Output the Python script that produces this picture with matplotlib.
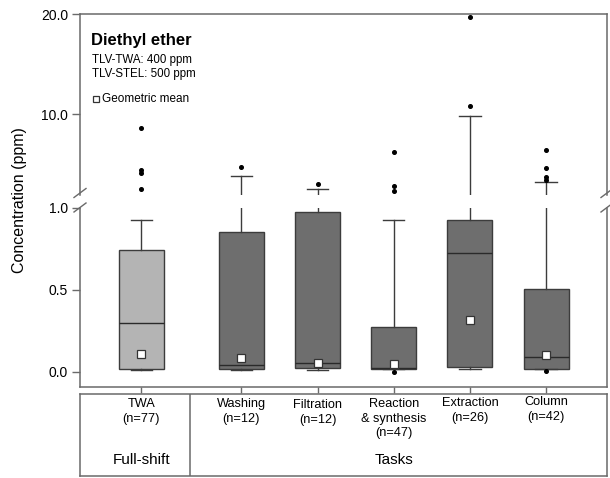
import matplotlib
matplotlib.use("Agg")
import matplotlib.pyplot as plt
from matplotlib.lines import Line2D

plt.rcParams['font.family'] = ['Liberation Sans', 'DejaVu Sans']

# Daten (ppm)
labels = ["TWA\n(n=77)", "Washing\n(n=12)", "Filtration\n(n=12)",
          "Reaction\n& synthesis\n(n=47)", "Extraction\n(n=26)", "Column\n(n=42)"]
q1 = [0.015, 0.018, 0.024, 0.015, 0.030, 0.015]
med = [0.294, 0.039, 0.053, 0.024, 0.722, 0.091]
q3 = [0.742, 0.850, 0.974, 0.274, 0.921, 0.503]
whislo = [0.010, 0.010, 0.010, 0.015, 0.015, 0.015]
whishi = [0.921, 3.83, 2.50, 0.921, 9.80, 3.26]
geo_mean = [0.110, 0.083, 0.055, 0.045, 0.313, 0.100]
outliers = [
    [8.66, 4.43, 4.10, 2.53],
    [4.70],
    [3.03],
    [6.20, 2.86, 2.36, 0.0],
    [10.8, 19.7],
    [6.40, 4.63, 3.73, 3.43, 0.006],
]

W, H = 610, 478
fig = plt.figure(figsize=(W / 100, H / 100), dpi=100)


def fax(l, t, r, b):
    return fig.add_axes([l / W, 1 - b / H, (r - l) / W, (b - t) / H])


def fp(x, y):
    return x / W, 1 - y / H


# Layout
pos = [0, 1.31, 2.31, 3.31, 4.31, 5.31]
xlim = (-0.807, 6.109)
box_cols = ["#b4b4b4"] + ["#6e6e6e"] * 5
edge = "#3c3c3c"
spine_c = "#6a6a6a"

stats = []
for i in range(6):
    stats.append(dict(med=med[i], q1=q1[i], q3=q3[i], whislo=whislo[i],
                      whishi=whishi[i], fliers=outliers[i], mean=geo_mean[i]))

ax_hi = fax(80, 14.3, 607, 195)
ax_lo = fax(80, 207.5, 607, 386.7)
ax_tb = fax(80, 393.5, 607, 476)

for ax in (ax_hi, ax_lo):
    bp = ax.bxp(stats, positions=pos, widths=0.59, capwidths=0.28,
                patch_artist=True, showmeans=True,
                boxprops=dict(edgecolor=edge, linewidth=1.0),
                medianprops=dict(color="#2a2a2a", linewidth=1.0),
                whiskerprops=dict(color=edge, linewidth=1.0),
                capprops=dict(color=edge, linewidth=1.0),
                flierprops=dict(marker="o", markerfacecolor="black",
                                markeredgecolor="black", markersize=2.6),
                meanprops=dict(marker="s", markerfacecolor="white",
                               markeredgecolor="#333333", markersize=5.5,
                               markeredgewidth=0.9))
    for patch, c in zip(bp["boxes"], box_cols):
        patch.set_facecolor(c)
    ax.set_xlim(*xlim)
    for s in ax.spines.values():
        s.set_color(spine_c)
        s.set_linewidth(1.1)
    ax.tick_params(axis="y", direction="out", length=6, width=1.0,
                   color=spine_c, labelsize=10, pad=2.5)
    ax.tick_params(axis="x", labelbottom=False)

ax_hi.set_ylim(1.93, 20)
ax_hi.set_yticks([10.0, 20.0], ["10.0", "20.0"])
ax_hi.spines["bottom"].set_visible(False)
ax_hi.tick_params(axis="x", length=0)

ax_lo.set_ylim(-0.091, 1.0)
ax_lo.set_yticks([0.0, 0.5, 1.0], ["0.0", "0.5", "1.0"])
ax_lo.spines["top"].set_visible(False)
ax_lo.set_xticks(pos)
ax_lo.tick_params(axis="x", direction="out", length=4.6, width=1.0, color=spine_c)

# Achsenbruch
for xb in (80, 607):
    for yb in (193, 207.5):
        x0, y0 = fp(xb - 6, yb + 4.5)
        x1, y1 = fp(xb + 6, yb - 4.5)
        fig.add_artist(Line2D([x0, x1], [y0, y1], color=spine_c, lw=1.0))

fig.text(*fp(20, 200), "Concentration (ppm)", rotation=90, ha="center",
         va="center", fontsize=11.5)

# Beschriftung oben links
fig.text(*fp(91, 40), "Diethyl ether", fontsize=12, fontweight="bold", va="center")
fig.text(*fp(92, 60), "TLV-TWA: 400 ppm", fontsize=8.3, va="center")
fig.text(*fp(92, 74), "TLV-STEL: 500 ppm", fontsize=8.3, va="center")
fig.add_artist(Line2D([fp(96, 0)[0]], [fp(0, 99)[1]], marker="s", markersize=4.8,
                      markerfacecolor="white", markeredgecolor="#333333",
                      markeredgewidth=0.9))
fig.text(*fp(102.5, 99), "Geometric mean", fontsize=8.5, va="center")

# Tabelle unten
ax_tb.set_xlim(*xlim)
ax_tb.set_ylim(476, 393.5)
ax_tb.set_xticks([])
ax_tb.set_yticks([])
for s in ax_tb.spines.values():
    s.set_color(spine_c)
    s.set_linewidth(1.1)
ax_tb.axvline((190 - 141.5) / 76.2, color=spine_c, lw=1.1)

line_off = [0, 0, 1.5, 0, -0.5, -2]
for p, lab, off in zip(pos, labels, line_off):
    for k, line in enumerate(lab.split("\n")):
        ax_tb.text(p, 404 + off + 14.7 * k, line, ha="center", va="center",
                   fontsize=9.2)
ax_tb.text(pos[0], 460, "Full-shift", ha="center", va="center", fontsize=11)
ax_tb.text(pos[3], 460, "Tasks", ha="center", va="center", fontsize=11)

fig.savefig("out.png", dpi=100)
